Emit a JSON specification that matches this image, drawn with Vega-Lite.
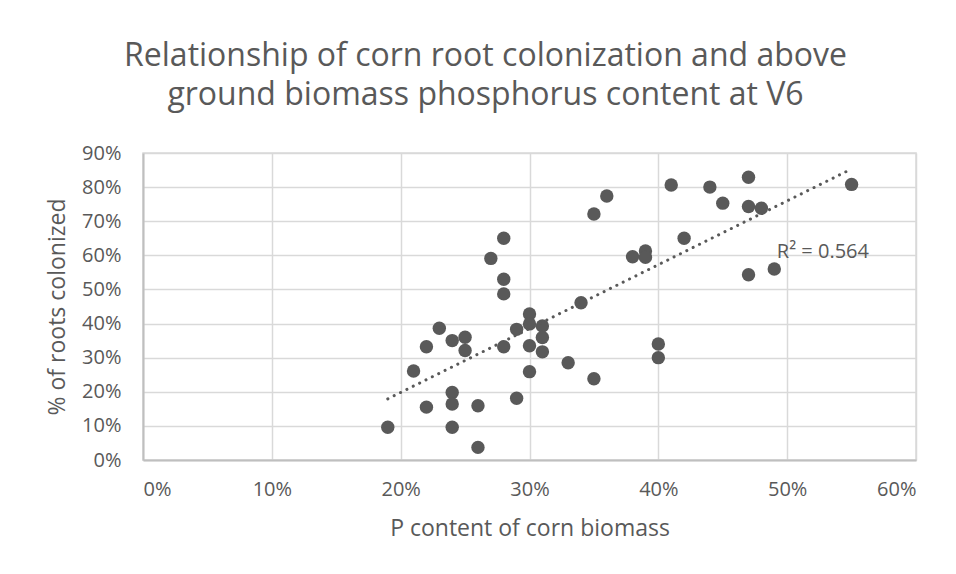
{
  "$schema": "https://vega.github.io/schema/vega-lite/v6.json",
  "autosize": "none",
  "width": 773,
  "height": 307,
  "padding": {"left": 143, "top": 153, "right": 40, "bottom": 114},
  "background": "white",
  "title": {
    "text": ["Relationship of corn root colonization and above", "ground biomass phosphorus content at V6"],
    "font": "Open Sans",
    "fontSize": 32,
    "fontWeight": "normal",
    "color": "#595959",
    "anchor": "middle",
    "dx": -44,
    "lineHeight": 39,
    "offset": 31
  },
  "config": {
    "view": {"stroke": "#d9d9d9", "strokeWidth": 1.5},
    "axis": {
      "labelFont": "Open Sans",
      "labelFontSize": 20,
      "labelColor": "#595959",
      "titleFont": "Open Sans",
      "titleFontSize": 23,
      "titleFontWeight": "normal",
      "titleColor": "#595959",
      "gridColor": "#d9d9d9",
      "gridWidth": 1.5,
      "domainColor": "#bfbfbf",
      "domainWidth": 2,
      "ticks": false
    }
  },
  "datasets": {
    "pts": [
      {"p": 0.27, "c": 0.591}, {"p": 0.28, "c": 0.650}, {"p": 0.28, "c": 0.530}, {"p": 0.28, "c": 0.487},
      {"p": 0.30, "c": 0.428}, {"p": 0.30, "c": 0.399}, {"p": 0.29, "c": 0.383}, {"p": 0.31, "c": 0.393},
      {"p": 0.31, "c": 0.359}, {"p": 0.31, "c": 0.317}, {"p": 0.30, "c": 0.335}, {"p": 0.28, "c": 0.332},
      {"p": 0.30, "c": 0.259}, {"p": 0.33, "c": 0.285}, {"p": 0.35, "c": 0.238}, {"p": 0.34, "c": 0.461},
      {"p": 0.29, "c": 0.181}, {"p": 0.23, "c": 0.386}, {"p": 0.24, "c": 0.350}, {"p": 0.25, "c": 0.360},
      {"p": 0.25, "c": 0.321}, {"p": 0.22, "c": 0.332}, {"p": 0.21, "c": 0.261}, {"p": 0.24, "c": 0.198},
      {"p": 0.24, "c": 0.164}, {"p": 0.22, "c": 0.155}, {"p": 0.26, "c": 0.159}, {"p": 0.19, "c": 0.096},
      {"p": 0.24, "c": 0.096}, {"p": 0.26, "c": 0.037}, {"p": 0.40, "c": 0.340}, {"p": 0.40, "c": 0.300},
      {"p": 0.38, "c": 0.596}, {"p": 0.39, "c": 0.613}, {"p": 0.39, "c": 0.594}, {"p": 0.35, "c": 0.721},
      {"p": 0.36, "c": 0.774}, {"p": 0.42, "c": 0.650}, {"p": 0.41, "c": 0.806}, {"p": 0.44, "c": 0.800},
      {"p": 0.45, "c": 0.753}, {"p": 0.47, "c": 0.829}, {"p": 0.47, "c": 0.743}, {"p": 0.48, "c": 0.738},
      {"p": 0.47, "c": 0.543}, {"p": 0.49, "c": 0.560}, {"p": 0.55, "c": 0.808}
    ],
    "note": [{"p": 0.492, "c": 0.61, "label": "R² = 0.564"}]
  },
  "encoding": {
    "x": {
      "field": "p", "type": "quantitative",
      "scale": {"domain": [0, 0.6], "nice": false, "zero": false},
      "axis": {"title": "P content of corn biomass", "format": "0%", "values": [0, 0.1, 0.2, 0.3, 0.4, 0.5, 0.6], "labelPadding": 19, "titlePadding": 18}
    },
    "y": {
      "field": "c", "type": "quantitative",
      "scale": {"domain": [0, 0.9], "nice": false, "zero": false},
      "axis": {"title": "% of roots colonized", "format": "0%", "values": [0, 0.1, 0.2, 0.3, 0.4, 0.5, 0.6, 0.7, 0.8, 0.9], "labelPadding": 22, "titlePadding": 12}
    }
  },
  "layer": [
    {
      "data": {"name": "pts"},
      "mark": {"type": "circle", "size": 180, "color": "#595959", "opacity": 1}
    },
    {
      "data": {"name": "pts"},
      "transform": [{"regression": "c", "on": "p"}],
      "mark": {"type": "line", "color": "#595959", "strokeWidth": 3, "strokeDash": [0.1, 7], "strokeCap": "round"}
    },
    {
      "data": {"name": "note"},
      "mark": {"type": "text", "align": "left", "baseline": "middle", "font": "Open Sans", "fontSize": 20, "color": "#595959"},
      "encoding": {"text": {"field": "label"}}
    }
  ]
}
